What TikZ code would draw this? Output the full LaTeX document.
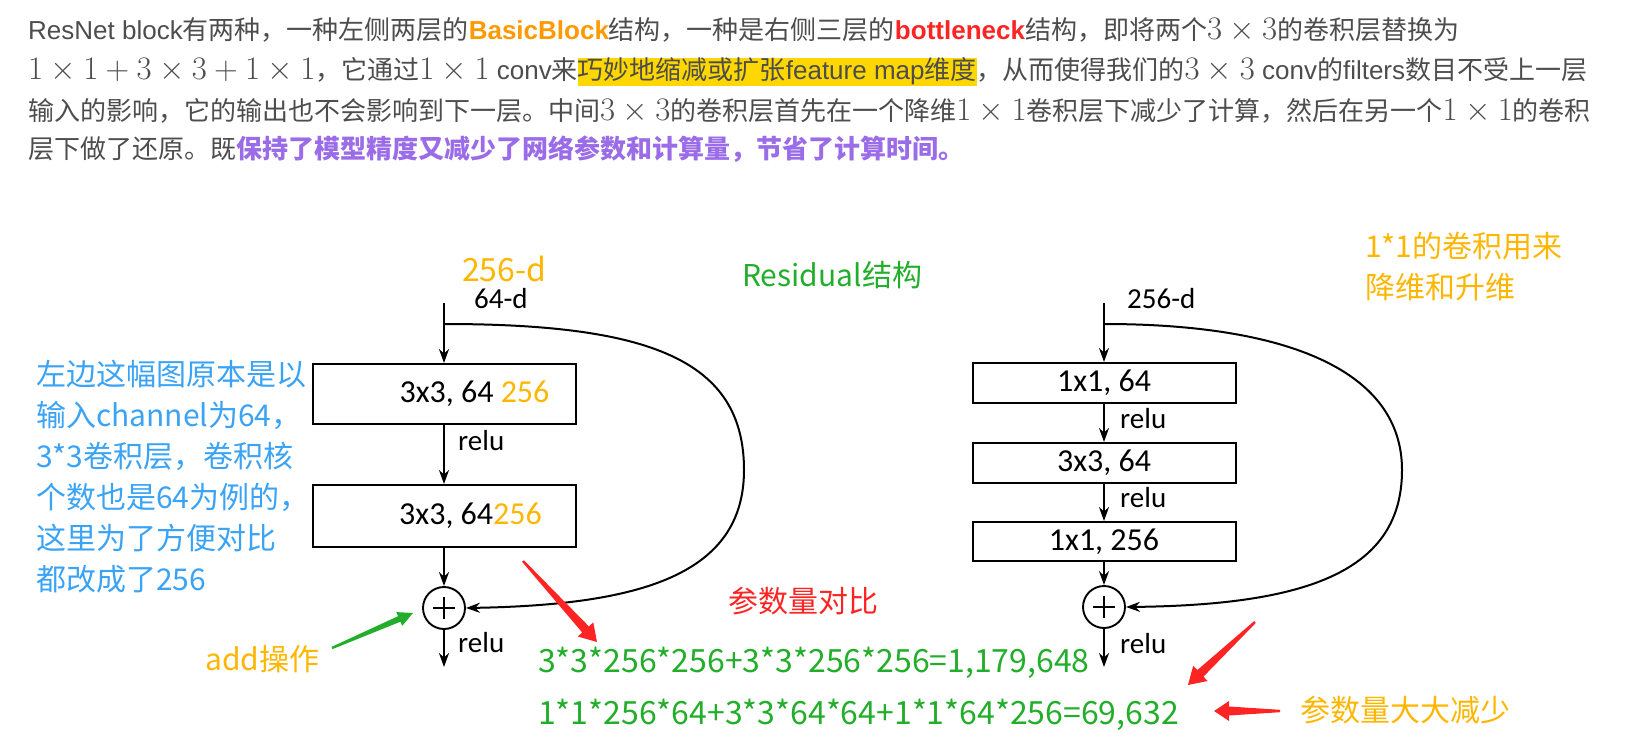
\documentclass[tikz,border=0pt]{standalone}
\usepackage{graphicx}
\usepackage{fontspec}
\setmainfont{Liberation Sans}
\newfontfamily\cjk{Noto Sans CJK SC}
\newfontfamily\calib{Carlito}
\usetikzlibrary{arrows.meta,calc}
\definecolor{rngray}{HTML}{4D4D4D}
\definecolor{rnyellow}{HTML}{FFD700}
\definecolor{rnamber}{HTML}{FF9900}
\definecolor{rnred}{HTML}{FF2424}
\definecolor{rnpurple}{HTML}{9B6CE8}
\definecolor{rnorange}{HTML}{FFB600}
\definecolor{rnblue}{HTML}{3AA3F5}
\definecolor{rngreen}{HTML}{22AE2A}

% KaTeX-sized inline math and the yellow marker
\newcommand\mth[1]{\scalebox{1.32}{\fontsize{24.88}{30}\selectfont$#1$}}
\newcommand\hl[1]{{\setlength{\fboxsep}{0pt}\colorbox{rnyellow}{\vrule height 19pt depth 6pt width 0pt#1}}}
% tapered hand-drawn arrow: colour, tail, tip, head length, head half width, shaft half width
\newcommand\fatarrow[6]{%
  \coordinate (fab) at ($(#3)!#4!(#2)$);
  \fill[#1] ($(#2)!1.2pt!90:(#3)$) -- ($(fab)!#6!90:(#3)$) -- ($(fab)!#5!90:(#3)$) -- (#3)
    -- ($(fab)!#5!-90:(#3)$) -- ($(fab)!#6!-90:(#3)$) -- ($(#2)!1.2pt!-90:(#3)$) -- cycle;
}

\begin{document}
\begin{tikzpicture}[x=1pt, y=-1pt,
    para/.style={anchor=base west, inner sep=0, text=rngray, font=\fontsize{26}{30}\selectfont},
    box/.style={draw, line width=2pt, minimum width=263pt, inner sep=0, font=\calib\fontsize{32}{36}\selectfont},
    lbl/.style={anchor=base west, inner sep=0, font=\calib\fontsize{29}{34}\selectfont},
    note/.style={anchor=base west, inner sep=0, align=left, font=\cjk\fontsize{30}{41}\selectfont},
    plus/.style={circle, draw, line width=1.9pt, minimum size=42pt, inner sep=0,
      path picture={\draw[line width=1.7pt]
        ([xshift=-11pt]path picture bounding box.center) -- ([xshift=11pt]path picture bounding box.center)
        ([yshift=-11pt]path picture bounding box.center) -- ([yshift=11pt]path picture bounding box.center);}},
    flow/.style={draw, line width=2pt, -{Stealth[length=14pt, width=10pt]}},
  ]
  \useasboundingbox (0,0) rectangle (1631,752);

  % paragraph above the figure
  \node[para] (l1) at (28,40) {ResNet block{\cjk 有两种，一种左侧两层的}{\bfseries\color{rnamber}BasicBlock}{\cjk 结构，一种是右侧三层的}{\bfseries\color{rnred}bottleneck}{\cjk 结构，即将两个}\mth{3\times3}{\cjk 的卷积层替换为}};
  \node[para] (l2) at (28,80) {\mth{1\times1+3\times3+1\times1}{\cjk ，它通过}\mth{1\times1} conv{\cjk 来}\hl{{\cjk 巧妙地缩减或扩张}feature map{\cjk 维度}}{\cjk ，从而使得我们的}\mth{3\times3} conv{\cjk 的}filters{\cjk 数目不受上一层}};
  \node[para] (l3) at (28,120) {{\cjk 输入的影响，它的输出也不会影响到下一层。中间}\mth{3\times3}{\cjk 的卷积层首先在一个降维}\mth{1\times1}{\cjk 卷积层下减少了计算，然后在另一个}\mth{1\times1}{\cjk 的卷积}};
  \node[para] (l4) at (28,158) {{\cjk 层下做了还原。既}{\cjk\bfseries\color{rnpurple}保持了模型精度又减少了网络参数和计算量，节省了计算时间。}};

  % basic block (left)
  \coordinate (in1) at (444,303);
  \coordinate (sk1) at (444,324);
  \coordinate (rt1) at (744,470);
  \coordinate (out1) at (444,667);
  \node[box, minimum height=60pt] (b1) at (444,394) {\hspace*{61pt}3x3, 64 \textcolor{rnorange}{256}};
  \node[box, minimum height=62pt] (b2) at (444,516) {\hspace*{53pt}3x3, 64\textcolor{rnorange}{256}};
  \node[plus] (s1) at (444,608) {};
  \node[lbl] (d1) at (474,308) {64-d};
  \node[note, font=\cjk\fontsize{32}{36}\selectfont, text=rnorange] (d1o) at (462,281) {256-d};
  \node[lbl] (r1) at (458,450) {relu};
  \node[lbl] (r2) at (458,652) {relu};
  \draw[flow] (in1) -- (b1);
  \draw[flow] (b1) -- (b2);
  \draw[flow] (b2) -- (s1);
  \draw[flow] (s1) -- (out1);
  \draw[flow] (sk1) .. controls (650,324) and (744,360) .. (rt1) .. controls (744,575) and (640,605) .. (s1.east);

  % bottleneck block (right)
  \coordinate (in2) at (1104,303);
  \coordinate (sk2) at (1104,324);
  \coordinate (rt2) at (1402,470);
  \coordinate (out2) at (1104,667);
  \node[box, minimum height=40pt] (b3) at (1104,383) {1x1, 64};
  \node[box, minimum height=40pt] (b4) at (1104,463) {3x3, 64};
  \node[box, minimum height=39pt] (b5) at (1104,541.5) {1x1, 256};
  \node[plus] (s2) at (1104,607) {};
  \node[lbl] (d2) at (1127,308) {256-d};
  \node[lbl] (r3) at (1120,428) {relu};
  \node[lbl] (r4) at (1120,507) {relu};
  \node[lbl] (r5) at (1120,653) {relu};
  \draw[flow] (in2) -- (b3);
  \draw[flow] (b3) -- (b4);
  \draw[flow] (b4) -- (b5);
  \draw[flow] (b5) -- (s2);
  \draw[flow] (s2) -- (out2);
  \draw[flow] (sk2) .. controls (1290,324) and (1402,372) .. (rt2) .. controls (1402,570) and (1310,605) .. (s2.east);

  % notes (a multi-line node sits on the baseline of its last line)
  \node[note, text=rnblue] (nb) at (36,590) {左边这幅图原本是以\\输入channel为64，\\3*3卷积层，卷积核\\个数也是64为例的，\\这里为了方便对比\\都改成了256};
  \node[note, text=rnorange] (nadd) at (205,670) {add操作};
  \node[note, text=rngreen] (nres) at (742,286) {Residual结构};
  \node[note, text=rnorange] (n11) at (1365,298) {1*1的卷积用来\\降维和升维};
  \node[note, text=rnred] (ncmp) at (728,612) {参数量对比};
  \node[note, text=rngreen, font=\cjk\fontsize{32}{36}\selectfont] (f1) at (538,672) {3*3*256*256+3*3*256*256=1,179,648};
  \node[note, text=rngreen, font=\cjk\fontsize{32}{36}\selectfont] (f2) at (538,724) {1*1*256*64+3*3*64*64+1*1*64*256=69,632};
  \node[note, text=rnorange] (nless) at (1300,721) {参数量大大减少};

  % pointer arrows
  \coordinate (ga) at (332,648);
  \coordinate (gb) at (413,613);
  \fatarrow{rngreen}{ga}{gb}{15pt}{7.5pt}{3pt}
  \coordinate (ra) at (523,561);
  \coordinate (rb) at (597,642);
  \fatarrow{rnred}{ra}{rb}{17pt}{10.5pt}{4.5pt}
  \coordinate (rc) at (1255,622);
  \coordinate (rd) at (1188,685);
  \fatarrow{rnred}{rc}{rd}{17pt}{10.5pt}{4.5pt}
  \coordinate (re) at (1280,711);
  \coordinate (rf) at (1214,711);
  \fatarrow{rnred}{re}{rf}{15pt}{10pt}{4.5pt}
\end{tikzpicture}
\end{document}
